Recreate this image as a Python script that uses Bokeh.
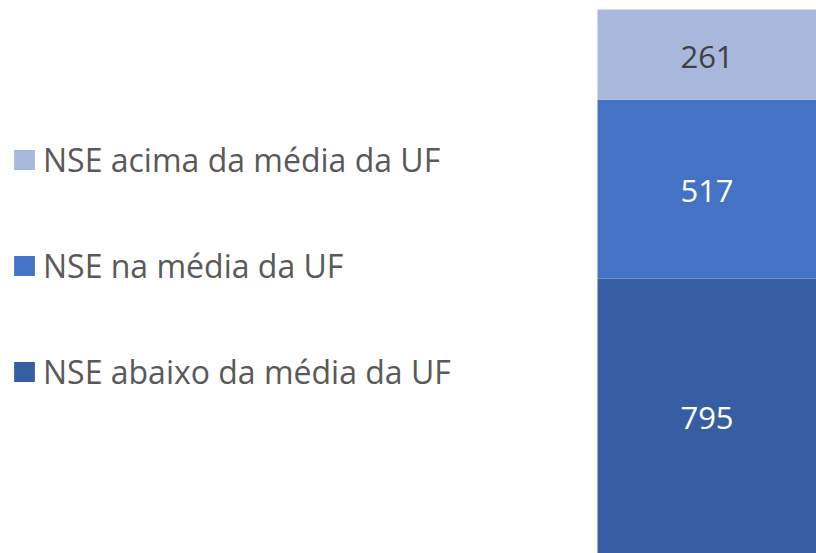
from bokeh.plotting import figure
from bokeh.models import ColumnDataSource, Range1d, Legend, LegendItem, LabelSet
from bokeh.core.properties import value
from bokeh.embed import file_html
from bokeh.resources import INLINE

# Data (bottom to top of the stacked bar)
categories = ["NSE abaixo da média da UF", "NSE na média da UF", "NSE acima da média da UF"]
values = [795, 517, 261]
colors = ["#365FA3", "#4472C4", "#A8B7DC"]
label_colors = ["#FFFFFF", "#FFFFFF", "#404040"]

bottoms = []
tops = []
acc = 0
for v in values:
    bottoms.append(acc)
    acc += v
    tops.append(acc)
total = acc

W, H = 816, 553
p = figure(width=W, height=H, output_backend="svg", toolbar_location=None,
           x_range=Range1d(0.5 - W / 219.0, 0.5), y_range=Range1d(0, total * H / 544.0),
           min_border=0, outline_line_color=None)
p.xaxis.visible = False
p.yaxis.visible = False
p.grid.visible = False
p.background_fill_color = "white"
p.border_fill_color = "white"

renderers = []
for i, (cat, b, t, c) in enumerate(zip(categories, bottoms, tops, colors)):
    src = ColumnDataSource(dict(x=[0], bottom=[b], top=[t]))
    r = p.vbar(x="x", width=1, bottom="bottom", top="top", source=src,
               fill_color=c, line_color=None)
    renderers.append(r)

lab_src = ColumnDataSource(dict(
    x=[0] * len(values),
    y=[(b + t) / 2 for b, t in zip(bottoms, tops)],
    text=[str(v) for v in values],
    color=label_colors,
))
labels = LabelSet(x="x", y="y", text="text", source=lab_src,
                  text_align="center", text_baseline="middle",
                  text_color="color", text_font=value("Open Sans"),
                  text_font_size="31px", y_offset=-2)
p.add_layout(labels)

items = [LegendItem(label=categories[i], renderers=[renderers[i]]) for i in [2, 1, 0]]
legend = Legend(items=items, location=(11, 160), orientation="vertical",
                glyph_width=26, glyph_height=25, label_standoff=6,
                label_height=40, spacing=63, padding=0, margin=0,
                label_text_font="Open Sans", label_text_font_size="32px",
                label_text_color="#595959", border_line_color=None,
                background_fill_alpha=0)
p.add_layout(legend)

open("out.html", "w").write(file_html(p, INLINE))
